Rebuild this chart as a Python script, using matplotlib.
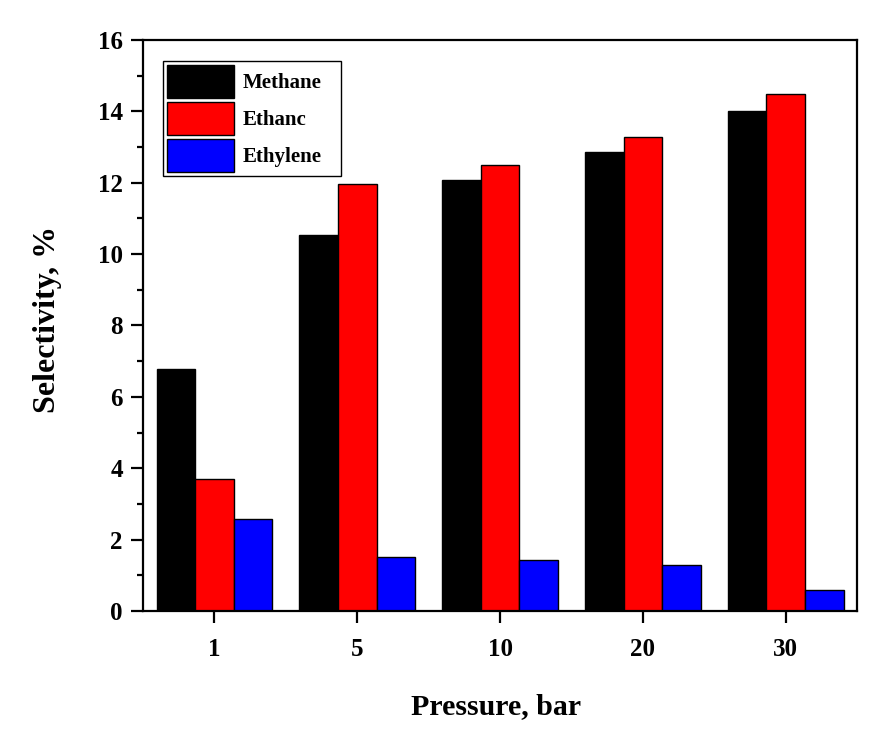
import numpy as np
import matplotlib
matplotlib.use("Agg")
import matplotlib.pyplot as plt
from matplotlib.ticker import MultipleLocator

pressures = ["1", "5", "10", "20", "30"]
methane = [6.78, 10.53, 12.07, 12.86, 14.02]
ethane = [3.70, 11.97, 12.50, 13.28, 14.49]
ethylene = [2.58, 1.51, 1.43, 1.29, 0.59]

plt.rcParams['font.family'] = ['Liberation Serif', 'DejaVu Serif']
plt.rcParams['font.weight'] = 'bold'

fig = plt.figure(figsize=(8.91, 7.37), dpi=100)
ax = fig.add_axes([0.1605, 0.171, 0.8015, 0.7747])

x = np.arange(len(pressures))
w = 0.27
ax.bar(x - w, methane, w, color='black', edgecolor='black', linewidth=1, label='Methane')
ax.bar(x, ethane, w, color='#ff0000', edgecolor='black', linewidth=1, label='Ethanc')
ax.bar(x + w, ethylene, w, color='#0000ff', edgecolor='black', linewidth=1, label='Ethylene')

ax.set_xlim(-0.5, 4.5)
ax.set_ylim(0, 16)
ax.set_xticks(x)
ax.set_xticklabels(pressures)
ax.yaxis.set_major_locator(MultipleLocator(2))
ax.yaxis.set_minor_locator(MultipleLocator(1))
ax.tick_params(axis='both', which='major', direction='out', length=8.5, width=1.6,
               labelsize=18)
ax.tick_params(axis='x', which='major', pad=11)
ax.tick_params(axis='y', which='major', pad=6)
ax.tick_params(axis='y', which='minor', direction='out', length=4.5, width=1.6)
ax.tick_params(top=False, right=False)
for s in ax.spines.values():
    s.set_linewidth(1.6)
for lbl in ax.get_xticklabels() + ax.get_yticklabels():
    lbl.set_fontweight('bold')

ax.set_xlabel('Pressure, bar', fontsize=21.5, fontweight='bold')
ax.set_ylabel('Selectivity, %', fontsize=23, fontweight='bold')
ax.xaxis.set_label_coords(0.495, -0.143)
ax.yaxis.set_label_coords(-0.113, 0.511)

# legend: expand mode so the frame is wider than the text, as in the original
leg = ax.legend(loc='upper left', bbox_to_anchor=(0.028, 0.5, 0.249, 0.463),
                mode='expand', fancybox=False,
                edgecolor='black', framealpha=1, handlelength=3.2, handleheight=2.06,
                labelspacing=0.19, borderpad=0.2, handletextpad=0.4,
                borderaxespad=0, prop={'weight': 'bold', 'size': 15})
leg.get_frame().set_linewidth(1)

fig.savefig('out.png', dpi=100)
